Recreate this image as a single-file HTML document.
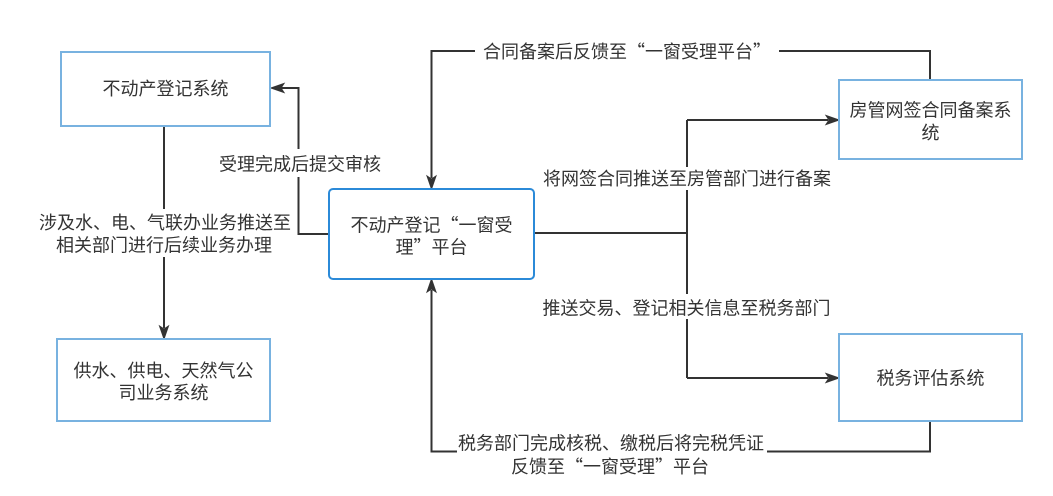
<!DOCTYPE html>
<html>
<head>
<meta charset="utf-8">
<style>
  html,body{margin:0;padding:0;background:#fff;}
  svg{display:block;}
  text{font-family:"Liberation Sans","Noto Sans CJK SC",sans-serif;font-size:18px;fill:#333;}
  .q{font-family:"Noto Sans CJK SC",sans-serif;}
</style>
</head>
<body>
<svg width="1053" height="496" viewBox="0 0 1053 496" xmlns="http://www.w3.org/2000/svg">
  <rect x="0" y="0" width="1053" height="496" fill="#fff"/>

  <!-- connectors -->
  <g fill="none" stroke="#333" stroke-width="2">
    <!-- box2 -> box1 -->
    <polyline points="329,234 298.5,234 298.5,88 281,88"/>
    <!-- box1 -> box3 -->
    <polyline points="164,126 164,328"/>
    <!-- 房管 -> box2 top -->
    <polyline points="930,80 930,51 431.5,51 431.5,178"/>
    <!-- 税务 -> box2 bottom -->
    <polyline points="930,421 930,451.5 431.5,451.5 431.5,290"/>
    <!-- box2 -> right split -->
    <polyline points="534,233 687,233"/>
    <polyline points="687,120 687,378"/>
    <polyline points="687,120 828,120"/>
    <polyline points="687,378 828,378"/>
  </g>

  <!-- arrowheads -->
  <g fill="#333" stroke="#333" stroke-width="1">
    <path d="M271,88 L284,83.5 L281,88 L284,92.5 Z"/>
    <path d="M164,339 L159.5,326 L164,329 L168.5,326 Z"/>
    <path d="M431.5,189 L427,176 L431.5,179 L436,176 Z"/>
    <path d="M431.5,279 L427,292 L431.5,289 L436,292 Z"/>
    <path d="M839,120 L826,115.5 L829,120 L826,124.5 Z"/>
    <path d="M839,378 L826,373.5 L829,378 L826,382.5 Z"/>
  </g>

  <!-- label backgrounds -->
  <g fill="#fff">
    <rect x="475" y="40" width="304" height="24"/>
    <rect x="219" y="149" width="162" height="28"/>
    <rect x="38" y="209" width="254" height="48"/>
    <rect x="542" y="167" width="290" height="23"/>
    <rect x="542" y="294" width="290" height="25"/>
    <rect x="457" y="432" width="310" height="46"/>
  </g>

  <!-- boxes -->
  <g fill="#fff" stroke="#78b2e0" stroke-width="2">
    <rect x="61" y="52" width="209" height="74"/>
    <rect x="57" y="339" width="213" height="82"/>
    <rect x="839" y="80" width="183" height="79"/>
    <rect x="839" y="334" width="183" height="87"/>
  </g>
  <rect x="329" y="189" width="205" height="90" rx="4" ry="4" fill="#fff" stroke="#2b8ad8" stroke-width="2"/>

  <!-- box texts -->
  <g text-anchor="middle">
    <text x="165.5" y="95">不动产登记系统</text>
    <text x="431.5" y="231.5">不动产登记<tspan class="q">“</tspan>一窗受</text>
    <text x="431.5" y="253.5">理<tspan class="q">”</tspan>平台</text>
    <text x="163.5" y="377">供水、供电、天然气公</text>
    <text x="163.5" y="399">司业务系统</text>
    <text x="930.5" y="116.5">房管网签合同备案系</text>
    <text x="930.5" y="139">统</text>
    <text x="930.5" y="384.5">税务评估系统</text>
  </g>

  <!-- connector labels -->
  <g text-anchor="middle">
    <text x="627" y="58">合同备案后反馈至<tspan class="q">“</tspan>一窗受理平台<tspan class="q">”</tspan></text>
    <text x="300" y="170.5">受理完成后提交审核</text>
    <text x="165" y="229">涉及水、电、气联办业务推送至</text>
    <text x="164" y="251.5">相关部门进行后续业务办理</text>
    <text x="687" y="185">将网签合同推送至房管部门进行备案</text>
    <text x="686.5" y="314.5">推送交易、登记相关信息至税务部门</text>
    <text x="611" y="449.5">税务部门完成核税、缴税后将完税凭证</text>
    <text x="610" y="473">反馈至<tspan class="q">“</tspan>一窗受理<tspan class="q">”</tspan>平台</text>
  </g>
</svg>
</body>
</html>
